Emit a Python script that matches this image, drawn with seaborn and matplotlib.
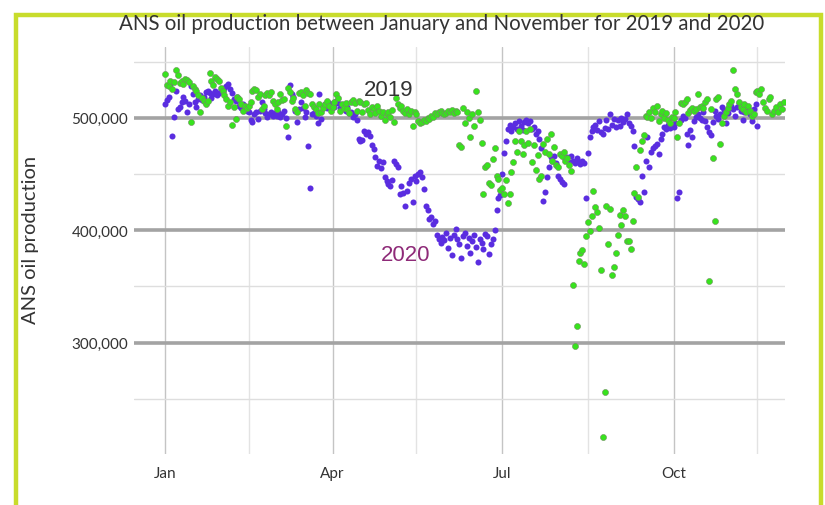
import numpy as np
import pandas as pd
import matplotlib
matplotlib.use('Agg')
import matplotlib.pyplot as plt
import matplotlib.dates as mdates
from matplotlib.ticker import FuncFormatter, FixedLocator
from matplotlib.patches import Rectangle
import seaborn as sns

# Daily ANS production (thousand barrels/day), month by month
jan_2019 = [539, 529, 528, 533, 526, 532, 543, 538, 531, 533, 530, 535, 534, 532, 496, 528,
            526, 524, 520, 505, 518, 515, 512, 515, 540, 533, 529, 536, 535, 533, 527]
feb_2019 = [524, 520, 517, 511, 514, 494, 510, 499, 519, 517, 512, 506, 511, 509, 511, 514,
            524, 526, 525, 519, 521, 508, 511, 520, 522, 520, 523, 515]
mar_2019 = [512, 508, 514, 521, 516, 517, 493, 527, 523, 515, 518, 508, 505, 522, 523, 520,
            511, 525, 522, 521, 512, 510, 508, 504, 512, 505, 509, 512, 515, 511, 506]
apr_2019 = [510, 514, 521, 518, 506, 512, 509, 513, 508, 504, 514, 516, 513, 506, 515, 514,
            505, 512, 513, 507, 503, 510, 508, 504, 511, 506, 502, 505, 498, 503]
may_2019 = [505, 501, 507, 496, 518, 512, 509, 511, 506, 504, 508, 503, 506, 493, 505, 503,
            497, 495, 496, 498, 497, 500, 499, 502, 501, 504, 503, 505, 506, 504, 503]
jun_2019 = [504, 506, 505, 507, 504, 506, 505, 476, 474, 509, 495, 505, 500, 483, 503, 493,
            524, 505, 498, 478, 432, 456, 458, 442, 440, 463, 473, 448, 446, 436]
jul_2019 = [438, 432, 445, 424, 432, 452, 461, 479, 470, 488, 479, 468, 476, 488, 478, 490,
            461, 476, 454, 467, 446, 448, 477, 470, 481, 468, 486, 462, 474, 458, 456]
aug_2019 = [468, 466, 470, 462, 464, 458, 453, 351, 297, 315, 373, 380, 382, 370, 395, 407,
            399, 413, 435, 421, 416, 402, 365, 216, 256, 422, 388, 419, 360, 367, 380]
sep_2019 = [396, 414, 405, 418, 413, 390, 390, 383, 408, 433, 456, 430, 471, 479, 485, 502,
            501, 505, 500, 509, 505, 511, 497, 503, 506, 500, 504, 498, 495, 501]
oct_2019 = [500, 505, 483, 495, 513, 512, 514, 517, 504, 507, 509, 506, 508, 521, 510, 511,
            509, 514, 517, 355, 508, 464, 408, 517, 519, 477, 495, 502, 505, 509, 512]
nov_2019 = [515, 543, 526, 521, 514, 510, 508, 512, 505, 511, 506, 502, 503, 523, 524, 521,
            526, 514, 509, 506, 517, 519, 503, 506, 510, 505, 512, 508, 514]

jan_2020 = [512, 516, 519, 530, 484, 501, 524, 508, 510, 514, 519, 515, 505, 512, 528, 521,
            514, 510, 517, 520, 516, 519, 523, 524, 522, 518, 521, 524, 520, 522, 525]
feb_2020 = [524, 527, 528, 530, 526, 522, 517, 515, 519, 511, 509, 512, 508, 506, 505, 498,
            496, 503, 505, 499, 506, 514, 508, 504, 501, 503, 505, 502]
mar_2020 = [504, 502, 505, 501, 503, 506, 500, 483, 529, 521, 519, 506, 496, 508, 514, 509,
            501, 505, 475, 438, 503, 504, 502, 495, 521, 499, 510, 512, 509, 513, 511]
apr_2020 = [512, 510, 515, 513, 509, 511, 508, 506, 510, 504, 505, 501, 503, 498, 481, 479,
            480, 488, 486, 487, 484, 476, 472, 465, 457, 462, 455, 461, 447, 444]
may_2020 = [441, 439, 445, 462, 459, 456, 432, 439, 433, 422, 435, 442, 446, 425, 448, 444,
            450, 452, 447, 437, 422, 418, 410, 412, 406, 408, 396, 392, 389, 394, 391]
jun_2020 = [398, 384, 393, 378, 396, 401, 392, 388, 375, 395, 398, 386, 393, 380, 390, 396,
            385, 372, 392, 389, 383, 397, 395, 379, 388, 392, 400, 418, 429, 431]
jul_2020 = [450, 469, 479, 490, 494, 488, 492, 495, 490, 497, 493, 489, 496, 498, 495, 497,
            490, 492, 486, 488, 481, 473, 426, 434, 447, 456, 465, 462, 466, 460, 448]
aug_2020 = [446, 443, 441, 463, 465, 461, 466, 462, 460, 464, 461, 459, 462, 460, 429, 469,
            483, 488, 492, 494, 489, 497, 487, 486, 491, 498, 490, 503, 494, 499, 492]
sep_2020 = [498, 493, 500, 496, 499, 503, 495, 493, 488, 475, 430, 428, 425, 448, 434, 462,
            483, 456, 470, 473, 475, 477, 468, 481, 486, 492, 490, 494, 491, 493]
oct_2020 = [492, 495, 429, 434, 498, 502, 500, 486, 476, 489, 483, 497, 501, 503, 500, 498,
            505, 497, 492, 487, 485, 496, 506, 502, 499, 503, 510, 507, 495, 504, 509]
nov_2020 = [511, 508, 502, 510, 513, 506, 498, 505, 511, 509, 503, 497, 508, 512, 493]

prod_2019 = (jan_2019 + feb_2019 + mar_2019 + apr_2019 + may_2019 + jun_2019
             + jul_2019 + aug_2019 + sep_2019 + oct_2019 + nov_2019)
prod_2020 = (jan_2020 + feb_2020 + mar_2020 + apr_2020 + may_2020 + jun_2020
             + jul_2020 + aug_2020 + sep_2020 + oct_2020 + nov_2020)

# both years on one common calendar (day of year)
start = pd.Timestamp('2019-01-01')
df_2019 = pd.DataFrame({'date': pd.date_range(start, periods=len(prod_2019)),
                        'production': np.array(prod_2019) * 1000})
df_2020 = pd.DataFrame({'date': pd.date_range(start, periods=len(prod_2020)),
                        'production': np.array(prod_2020) * 1000})

sns.set_theme(style='white')
plt.rcParams['font.family'] = ['Lato', 'DejaVu Sans']

fig = plt.figure(figsize=(8.25, 5.06), dpi=100)
ax = fig.add_axes([0.162, 0.101, 0.790, 0.804])

sns.scatterplot(data=df_2020, x='date', y='production', color='#5a2de0', s=19,
                linewidth=0, ax=ax, zorder=3)
sns.scatterplot(data=df_2019, x='date', y='production', color='#38e21e', s=19,
                edgecolor='#6f8f5f', linewidth=0.4, ax=ax, zorder=3)

ax.set_xlim(start - pd.Timedelta(days=16.7), start + pd.Timedelta(days=333))
ax.set_ylim(201000, 563000)

# ticks and grid
ax.xaxis.set_major_locator(mdates.MonthLocator(bymonth=[1, 4, 7, 10]))
ax.xaxis.set_major_formatter(mdates.DateFormatter('%b'))
minor_days = pd.to_datetime(['2019-02-15', '2019-05-16', '2019-08-16', '2019-11-15'])
ax.xaxis.set_minor_locator(FixedLocator(mdates.date2num(minor_days)))
ax.set_yticks([300000, 400000, 500000])
ax.set_yticks([250000, 350000, 450000, 550000], minor=True)
ax.yaxis.set_major_formatter(FuncFormatter(lambda v, p: f'{v:,.0f}'))

ax.grid(which='major', axis='x', color='#c4c4c4', linewidth=1)
ax.grid(which='minor', axis='x', color='#e3e3e3', linewidth=1)
ax.grid(which='major', axis='y', color='#a3a3a3', linewidth=2.6)
ax.grid(which='minor', axis='y', color='#dedede', linewidth=1)
ax.set_axisbelow(True)
for s in ax.spines.values():
    s.set_visible(False)
ax.tick_params(axis='both', which='both', length=0, colors='#333333', labelsize=11)
ax.tick_params(axis='x', pad=9)
ax.tick_params(axis='y', pad=4)
ax.set_xlabel('')
ax.set_ylabel('')

# labels on the point clouds
ax.text(pd.Timestamp('2019-05-01'), 525000, '2019', fontsize=16, color='#333333',
        ha='center', va='center', family=['Liberation Sans', 'DejaVu Sans'], zorder=4)
ax.text(pd.Timestamp('2019-05-10'), 378000, '2020', fontsize=16, color='#8e2a78',
        ha='center', va='center', family=['Liberation Sans', 'DejaVu Sans'], zorder=4)

fig.text(0.535, 0.953, 'ANS oil production between January and November for 2019 and 2020',
         ha='center', va='center', fontsize=14.8, color='#333333')
fig.text(0.037, 0.526, 'ANS oil production', rotation=90, ha='center', va='center',
         fontsize=14.5, color='#333333')

# lime frame around the figure (bottom edge falls outside)
fig.patches.append(Rectangle((15.5 / 825, -0.05), (820.5 - 15.5) / 825, 1.019,
                             transform=fig.transFigure, fill=False,
                             edgecolor='#c8dc2c', linewidth=3.2))

plt.savefig('out.png', dpi=100)
plt.close('all')
